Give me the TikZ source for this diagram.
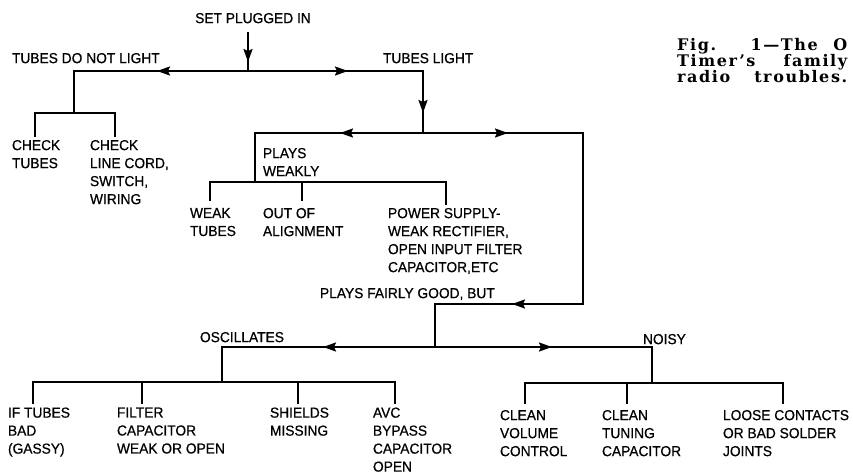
\documentclass[tikz,border=0pt]{standalone}
\usepackage{fontspec}
\newfontfamily\labelfont[FakeStretch=0.95,FakeBold=0.6]{Liberation Sans}
\newfontfamily\capfont[LetterSpace=10]{DejaVu Serif}
\usetikzlibrary{decorations.markings,arrows.meta}
\tikzset{
  wire/.style={line width=1.9pt, line join=miter},
  lbl/.style={font=\labelfont\fontsize{14.5}{18}\selectfont, align=left, inner sep=0pt, outer sep=0pt, anchor=north west},
  tipat/.style={postaction={decorate}, decoration={markings, mark=at position #1 with {\arrow{Stealth[length=13pt,width=9pt,inset=2pt]}}}},
  tiptwo/.style 2 args={postaction={decorate}, decoration={markings,
     mark=at position #1 with {\arrow{Stealth[length=13pt,width=9pt,inset=2pt]}},
     mark=at position #2 with {\arrow{Stealth[length=13pt,width=9pt,inset=2pt]}}}},
}
\begin{document}
\begin{tikzpicture}[x=1pt,y=-1pt]
\useasboundingbox (0,0) rectangle (853,474);

% labels
\node[lbl, anchor=north] (spi) at (253,13) {SET PLUGGED IN};
\node[lbl] (tdnl) at (12,53) {TUBES DO NOT LIGHT};
\node[lbl] (tl) at (383,53) {TUBES LIGHT};
\node[lbl] (ct) at (12,140) {CHECK\\TUBES};
\node[lbl] (clc) at (90,140) {CHECK\\LINE CORD,\\SWITCH,\\WIRING};
\node[lbl] (pw) at (263,148) {PLAYS\\WEAKLY};
\node[lbl] (wt) at (190,208) {WEAK\\TUBES};
\node[lbl] (ooa) at (263,208) {OUT OF\\ALIGNMENT};
\node[lbl] (ps) at (388,208) {POWER SUPPLY-\\WEAK RECTIFIER,\\OPEN INPUT FILTER\\CAPACITOR,ETC};
\node[lbl] (pfg) at (320,288) {PLAYS FAIRLY GOOD, BUT};
\node[lbl] (osc) at (200,332) {OSCILLATES};
\node[lbl] (noisy) at (643,334) {NOISY};
\node[lbl] (ift) at (8,407.5) {IF TUBES\\BAD\\(GASSY)};
\node[lbl] (fc) at (117,407.5) {FILTER\\CAPACITOR\\WEAK OR OPEN};
\node[lbl] (sm) at (270,407.5) {SHIELDS\\MISSING};
\node[lbl] (avc) at (373,407.5) {AVC\\BYPASS\\CAPACITOR\\OPEN};
\node[lbl] (cvc) at (500,410) {CLEAN\\VOLUME\\CONTROL};
\node[lbl] (ctc) at (602,410) {CLEAN\\TUNING\\CAPACITOR};
\node[lbl] (lc) at (723,410) {LOOSE CONTACTS\\OR BAD SOLDER\\JOINTS};

% caption
\node[anchor=north west, inner sep=0pt, align=left,
      font=\capfont\bfseries\fontsize{16}{16}\selectfont] (cap) at (677,38.5)
  {\makebox[170pt][s]{Fig. 1—The O}\\\makebox[170pt][s]{Timer’s family}\\\makebox[170pt][s]{radio troubles.}};

% junctions and corners
\coordinate (s0) at (248,32);
\coordinate (j1) at (248,71);
\coordinate (c1) at (74,71);
\coordinate (j2) at (74,113);
\coordinate (c2) at (423,71);
\coordinate (j3) at (423,133);
\coordinate (c3) at (255,133);
\coordinate (j4) at (255,182);
\coordinate (c4) at (583,133);
\coordinate (c5) at (583,304);
\coordinate (c6) at (435,304);
\coordinate (j6) at (435,347);
\coordinate (c7) at (222,347);
\coordinate (j7) at (222,382);
\coordinate (c8) at (652,347);
\coordinate (j8) at (652,383);

% bar ends / drops
\coordinate (b2l) at (35,113);  \coordinate (b2r) at (115,113);
\coordinate (b4l) at (210,182); \coordinate (b4m) at (302,182); \coordinate (b4r) at (446,182);
\coordinate (b7l) at (33,382);  \coordinate (b7a) at (142,382); \coordinate (b7b) at (298,382); \coordinate (b7r) at (395,382);
\coordinate (b8l) at (525,383); \coordinate (b8m) at (627,383); \coordinate (b8r) at (783,383);

% main flow
\draw[wire, tipat=30pt] (s0) -- (j1);
\draw[wire, tipat=91pt] (j1) -- (c1) -- (j2);
\draw[wire, tiptwo={100pt}{217pt}] (j1) -- (c2) -- (j3);
\draw[wire, tipat=83pt] (j3) -- (c3) -- (j4);
\draw[wire, tiptwo={85pt}{402pt}] (j3) -- (c4) -- (c5) -- (c6) -- (j6);
\draw[wire, tipat=112pt] (j6) -- (c7) -- (j7);
\draw[wire, tipat=117pt] (j6) -- (c8) -- (j8);

% branch bars
\draw[wire, shorten <=3pt, shorten >=3pt] (b2l |- ct.north) -- (b2l) -- (b2r) -- (b2r |- clc.north);
\draw[wire, shorten <=7pt, shorten >=3pt] (b4l |- wt.north) -- (b4l) -- (b4r) -- (b4r |- ps.north);
\draw[wire, shorten >=7pt] (b4m) -- (b4m |- ooa.north);
\draw[wire, shorten <=4pt, shorten >=4pt] (b7l |- ift.north) -- (b7l) -- (b7r) -- (b7r |- avc.north);
\draw[wire, shorten >=4pt] (b7a) -- (b7a |- fc.north);
\draw[wire, shorten >=4pt] (b7b) -- (b7b |- sm.north);
\draw[wire, shorten <=6pt, shorten >=6pt] (b8l |- cvc.north) -- (b8l) -- (b8r) -- (b8r |- lc.north);
\draw[wire, shorten >=6pt] (b8m) -- (b8m |- ctc.north);
\end{tikzpicture}
\end{document}
